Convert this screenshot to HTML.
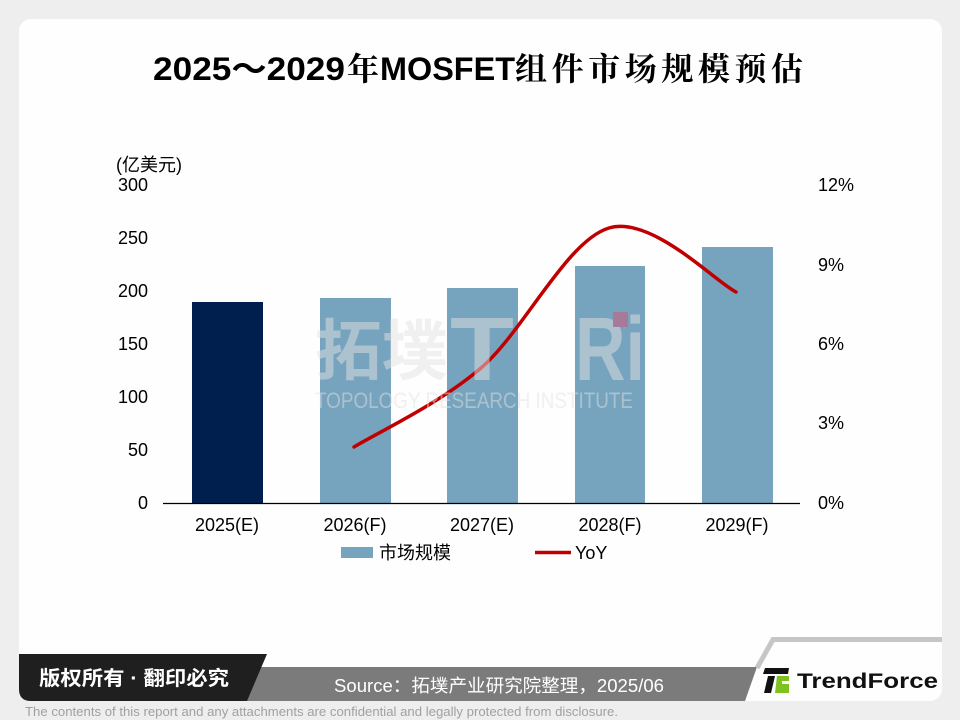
<!DOCTYPE html>
<html><head><meta charset="utf-8"><style>
html,body{margin:0;padding:0;background:#eeeeee;}
svg{display:block;}
</style></head><body>
<svg width="960" height="720" viewBox="0 0 960 720" xmlns="http://www.w3.org/2000/svg">
<rect x="0" y="0" width="960" height="720" fill="#eeeeee"/>
<!-- card -->
<rect x="19" y="19" width="923" height="682" rx="12" ry="12" fill="#fefefe"/>
<!-- title -->
<text y="80" font-size="32" font-weight="bold" fill="#000" font-family="'Liberation Sans','Noto Sans CJK SC',sans-serif">
<tspan x="153" textLength="192" lengthAdjust="spacingAndGlyphs">2025～2029</tspan>
</text>
<text x="347" y="80" font-size="32" font-weight="bold" fill="#000" font-family="'Noto Serif CJK SC','Noto Sans CJK SC',serif">年</text>
<text x="380" y="80" font-size="32" font-weight="bold" fill="#000" font-family="'Liberation Sans',sans-serif" textLength="135" lengthAdjust="spacingAndGlyphs">MOSFET</text>
<text x="515" y="80" font-size="32" font-weight="bold" fill="#000" font-family="'Noto Serif CJK SC','Noto Sans CJK SC',serif" textLength="288" lengthAdjust="spacing">组件市场规模预估</text>

<!-- chart fonts -->
<g font-family="'Liberation Sans','Noto Sans CJK SC',sans-serif" font-size="18" fill="#000">
<text x="116" y="171">(亿美元)</text>
<g text-anchor="end">
<text x="148" y="191">300</text>
<text x="148" y="244">250</text>
<text x="148" y="297">200</text>
<text x="148" y="350">150</text>
<text x="148" y="403">100</text>
<text x="148" y="456">50</text>
<text x="148" y="509">0</text>
</g>
<text x="818" y="191">12%</text>
<text x="818" y="271">9%</text>
<text x="818" y="350">6%</text>
<text x="818" y="429">3%</text>
<text x="818" y="509">0%</text>
<g text-anchor="middle">
<text x="227" y="531">2025(E)</text>
<text x="355" y="531">2026(F)</text>
<text x="482" y="531">2027(E)</text>
<text x="610" y="531">2028(F)</text>
<text x="737" y="531">2029(F)</text>
</g>
</g>

<!-- bars -->
<rect x="192" y="302" width="71" height="201" fill="#001f4e"/>
<rect x="320" y="298" width="71" height="205" fill="#76a3bd"/>
<rect x="447" y="288" width="71" height="215" fill="#76a3bd"/>
<rect x="575" y="266" width="70" height="237" fill="#76a3bd"/>
<rect x="702" y="247" width="71" height="256" fill="#76a3bd"/>
<!-- axis -->
<line x1="163" y1="503.5" x2="800" y2="503.5" stroke="#000" stroke-width="1.2"/>

<!-- YoY line -->
<path d="M354,447 C375.2,433.8 438.5,404.5 481,368 C523.5,331.5 566.5,240.7 609,228 C651.5,215.3 714.8,281.3 736,292" fill="none" stroke="#c00000" stroke-width="3.5" stroke-linecap="round"/>

<!-- watermark -->
<g fill="rgb(225,225,225)" fill-opacity="0.5">
<text x="315" y="374" font-size="66" font-weight="bold" font-family="'Noto Sans CJK SC',sans-serif" textLength="133" lengthAdjust="spacingAndGlyphs">拓墣</text>
<text x="450" y="380" font-size="90" font-weight="bold" font-family="'Liberation Sans',sans-serif" textLength="64" lengthAdjust="spacingAndGlyphs">T</text>
<text x="575" y="380" font-size="90" font-weight="bold" font-family="'Liberation Sans',sans-serif" textLength="70" lengthAdjust="spacingAndGlyphs">Ri</text>
<text x="315" y="408" font-size="22" font-family="'Liberation Sans',sans-serif" textLength="318" lengthAdjust="spacingAndGlyphs">TOPOLOGY RESEARCH INSTITUTE</text>
</g>
<rect x="613" y="312" width="15" height="15" fill="#a87a9a"/>

<!-- legend -->
<rect x="341" y="547" width="32" height="11" fill="#76a3bd"/>
<text x="379" y="559" font-size="18" font-family="'Liberation Sans','Noto Sans CJK SC',sans-serif" fill="#000">市场规模</text>
<line x1="535" y1="552.5" x2="571" y2="552.5" stroke="#c00000" stroke-width="3.5"/>
<text x="575" y="559" font-size="18" font-family="'Liberation Sans',sans-serif" fill="#000">YoY</text>

<!-- footer -->
<polygon points="250,667 757,667 745,701 240,701" fill="#7b7b7b"/>
<path d="M19,654 L267,654 L247,701 L31,701 Q19,701 19,689 Z" fill="#1f1f1f"/>
<text x="39" y="685" font-size="20" font-weight="bold" fill="#fff" font-family="'Liberation Sans','Noto Sans CJK SC',sans-serif" textLength="190" lengthAdjust="spacingAndGlyphs">版权所有 · 翻印必究</text>
<text x="334" y="692" font-size="18" fill="#fff" font-family="'Liberation Sans','Noto Sans CJK SC',sans-serif" textLength="330" lengthAdjust="spacingAndGlyphs">Source：拓墣产业研究院整理，2025/06</text>
<path d="M757,668 L773,639.5 L942,639.5" fill="none" stroke="#c6c6c6" stroke-width="5"/>
<!-- logo icon -->
<polygon points="765,668 789,668 788,674 763,674" fill="#111"/>
<polygon points="768,676 775,676 771,693 764,693" fill="#111"/>
<polygon points="777,676 789,676 789,681 782,681 782,684 789,684 789,693 775,693" fill="#7dc21e"/>
<text x="797" y="688" font-size="21" font-weight="bold" fill="#111" font-family="'Liberation Sans',sans-serif" textLength="141" lengthAdjust="spacingAndGlyphs">TrendForce</text>

<text x="25" y="716" font-size="13" fill="#a0a0a0" font-family="'Liberation Sans',sans-serif" textLength="593" lengthAdjust="spacingAndGlyphs">The contents of this report and any attachments are confidential and legally protected from disclosure.</text>
</svg>
</body></html>
